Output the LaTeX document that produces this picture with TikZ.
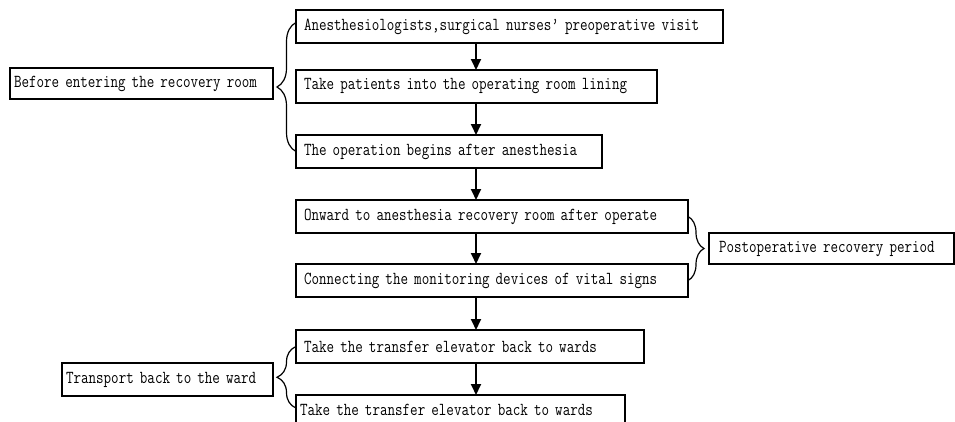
\documentclass[tikz,border=0pt]{standalone}
\usepackage{fontspec}
\setmonofont{Latin Modern Mono}[FakeStretch=0.8]
\usetikzlibrary{positioning, arrows.meta, decorations.pathreplacing}

\begin{document}
\begin{tikzpicture}[
                    font=\ttfamily\fontsize{18.3}{20}\selectfont,
                    node distance=32pt,
                    >={Triangle[length=11pt,width=10pt]},
                    stepbox/.style={draw, line width=1.5pt, minimum height=33pt, inner xsep=8pt, inner ysep=0pt, outer sep=0pt, align=left},
                    sidebox/.style={stepbox, minimum height=31pt, inner xsep=4pt},
                    flow/.style={->, line width=1.8pt},
                    curly/.style={decorate, decoration={brace, amplitude=#1}, line width=1.2pt}
                ]
                    \useasboundingbox (0,0) rectangle (955pt,-421pt);
                    \coordinate (axis) at (476pt,0);
                    \node[stepbox, text width=411pt, anchor=north west] (visit) at (296pt,-10pt) {Anesthesiologists,surgical nurses’ preoperative visit};
                    \node[stepbox, text width=345pt, below=27pt of visit.south west, anchor=north west] (lining) {Take patients into the operating room lining};
                    \node[stepbox, text width=290pt, below=of lining.south west, anchor=north west] (begins) {The operation begins after anesthesia};
                    \node[stepbox, text width=376pt, below=of begins.south west, anchor=north west] (onward) {Onward to anesthesia recovery room after operate};
                    \node[stepbox, text width=376pt, below=31pt of onward.south west, anchor=north west] (monitor) {Connecting the monitoring devices of vital signs};
                    \node[stepbox, text width=332pt, below=33pt of monitor.south west, anchor=north west] (elevA) {Take the transfer elevator back to wards};
                    \node[stepbox, inner xsep=4pt, minimum height=30pt, text width=321pt, below=of elevA.south west, anchor=north west] (elevB) {Take the transfer elevator back to wards};
                    \node[sidebox, text width=255pt, anchor=north west] (before) at (10pt,-68pt) {Before entering the recovery room};
                    \node[sidebox, inner xsep=10pt, text width=225pt, anchor=north west] (postop) at (709pt,-233pt) {Postoperative recovery period};
                    \node[stepbox, inner xsep=4pt, text width=203pt, anchor=north west] (ward) at (62pt,-363pt) {Transport back to the ward};
                    \draw[flow] (visit.south -| axis) -- (lining.north -| axis);
                    \draw[flow] (lining.south -| axis) -- (begins.north -| axis);
                    \draw[flow] (begins.south -| axis) -- (onward.north -| axis);
                    \draw[flow] (onward.south -| axis) -- (monitor.north -| axis);
                    \draw[flow] (monitor.south -| axis) -- (elevA.north -| axis);
                    \draw[flow] (elevA.south -| axis) -- (elevB.north -| axis);
                    \draw[curly=19pt] (begins.west) -- ([yshift=4pt]visit.west);
                    \draw[curly=16pt] (onward.east) -- (monitor.east);
                    \draw[curly=19pt] ([yshift=2pt]elevB.west) -- (elevA.west);
                \end{tikzpicture}
\end{document}
